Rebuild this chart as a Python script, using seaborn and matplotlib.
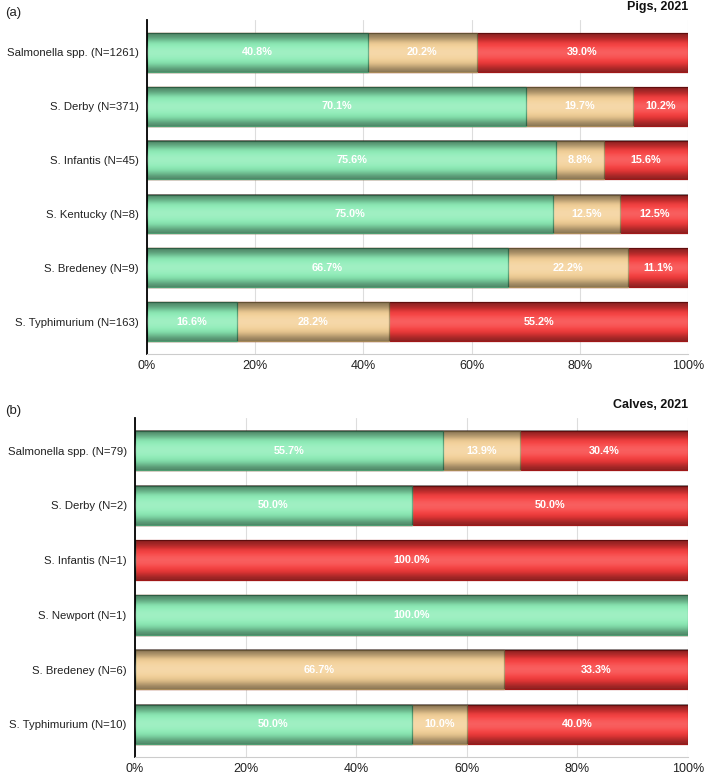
import matplotlib
matplotlib.use("Agg")
import matplotlib.pyplot as plt
import numpy as np
import seaborn as sns

pig_labels = [
    "Salmonella spp. (N=1261)", "S. Derby (N=371)", "S. Infantis (N=45)",
    "S. Kentucky (N=8)", "S. Bredeney (N=9)", "S. Typhimurium (N=163)",
]
pig_green = [40.8, 70.1, 75.6, 75.0, 66.7, 16.6]
pig_tan = [20.2, 19.7, 8.8, 12.5, 22.2, 28.2]
pig_red = [39.0, 10.2, 15.6, 12.5, 11.1, 55.2]

calf_labels = [
    "Salmonella spp. (N=79)", "S. Derby (N=2)", "S. Infantis (N=1)",
    "S. Newport (N=1)", "S. Bredeney (N=6)", "S. Typhimurium (N=10)",
]
calf_green = [55.7, 50.0, 0.0, 100.0, 0.0, 50.0]
calf_tan = [13.9, 0.0, 0.0, 0.0, 66.7, 10.0]
calf_red = [30.4, 50.0, 100.0, 0.0, 33.3, 40.0]

x_ticks = [0, 20, 40, 60, 80, 100]
x_ticklabels = ["0%", "20%", "40%", "60%", "80%", "100%"]

# fill, edge
COLORS = {
    "green": ("#8aecb5", "#4f9e72"),
    "tan": ("#f3cf95", "#a88a58"),
    "red": ("#f73a3a", "#a01818"),
}
BAR_H = 0.72


def shade_bar(ax, y):
    # dark edges, light centre, like a rounded bar
    prof = np.array([0.42, 0.28, 0.1, -0.05, -0.16, -0.2, -0.16, -0.07, 0.07, 0.22, 0.4])
    img = np.zeros((len(prof), 1, 4))
    img[:, 0, :3] = np.where(prof[:, None] > 0, 0.0, 1.0)
    img[:, 0, 3] = np.abs(prof)
    ax.imshow(img, extent=[0, 100, y + BAR_H / 2, y - BAR_H / 2], aspect="auto",
              interpolation="bicubic", zorder=3)


def draw_panel(ax, labels, green, tan, red, title, tag):
    green = np.array(green)
    tan = np.array(tan)
    red = np.array(red)
    layers = [
        (green + tan + red, "red"),
        (green + tan, "tan"),
        (green, "green"),
    ]
    for vals, key in layers:
        fill, edge = COLORS[key]
        sns.barplot(x=vals, y=labels, color=fill, edgecolor=edge, linewidth=0.9,
                    width=BAR_H, orient="h", ax=ax, zorder=2, saturation=1)

    for i in range(len(labels)):
        shade_bar(ax, i)
        left = 0
        for v in (green[i], tan[i], red[i]):
            if v > 0:
                ax.text(left + v / 2, i, f"{v:.1f}%", ha="center", va="center",
                        color="white", fontsize=7.8, fontweight="bold", zorder=5)
            left += v

    ax.set_xlim(0, 100)
    ax.set_ylim(5.6, -0.6)
    ax.set_xticks(x_ticks)
    ax.set_xticklabels(x_ticklabels)
    ax.set_xlabel("")
    ax.set_ylabel("")
    ax.tick_params(axis="x", length=0, labelsize=9, colors="#222222", pad=4)
    ax.tick_params(axis="y", length=0, labelsize=8.2, colors="#222222", pad=6)
    ax.grid(axis="x", color="#dddddd", linewidth=0.8, zorder=0)
    ax.grid(axis="y", visible=False)
    ax.set_axisbelow(True)
    for s in ("top", "right"):
        ax.spines[s].set_visible(False)
    ax.spines["left"].set_color("black")
    ax.spines["left"].set_linewidth(1.3)
    ax.spines["bottom"].set_color("#cccccc")
    ax.spines["bottom"].set_linewidth(0.8)
    top = ax.get_position().y1
    fig = ax.figure
    fig.text(688 / 709, top + 13 / 775, title, ha="right", va="center",
             fontsize=9, fontweight="bold", color="#111111")
    fig.text(5 / 709, top + 7 / 775, tag, ha="left", va="center",
             fontsize=9.5, color="#222222")


sns.set_theme(style="white")
plt.rcParams["font.family"] = ["Liberation Sans", "DejaVu Sans"]

fig = plt.figure(figsize=(7.09, 7.75), dpi=100)
ax_a = fig.add_axes([147 / 709, 1 - 354 / 775, (688 - 147) / 709, 334 / 775])
ax_b = fig.add_axes([135 / 709, 1 - 757 / 775, (688 - 135) / 709, 339 / 775])

draw_panel(ax_a, pig_labels, pig_green, pig_tan, pig_red, "Pigs, 2021", "(a)")
draw_panel(ax_b, calf_labels, calf_green, calf_tan, calf_red, "Calves, 2021", "(b)")

fig.savefig("out.png", dpi=100)
